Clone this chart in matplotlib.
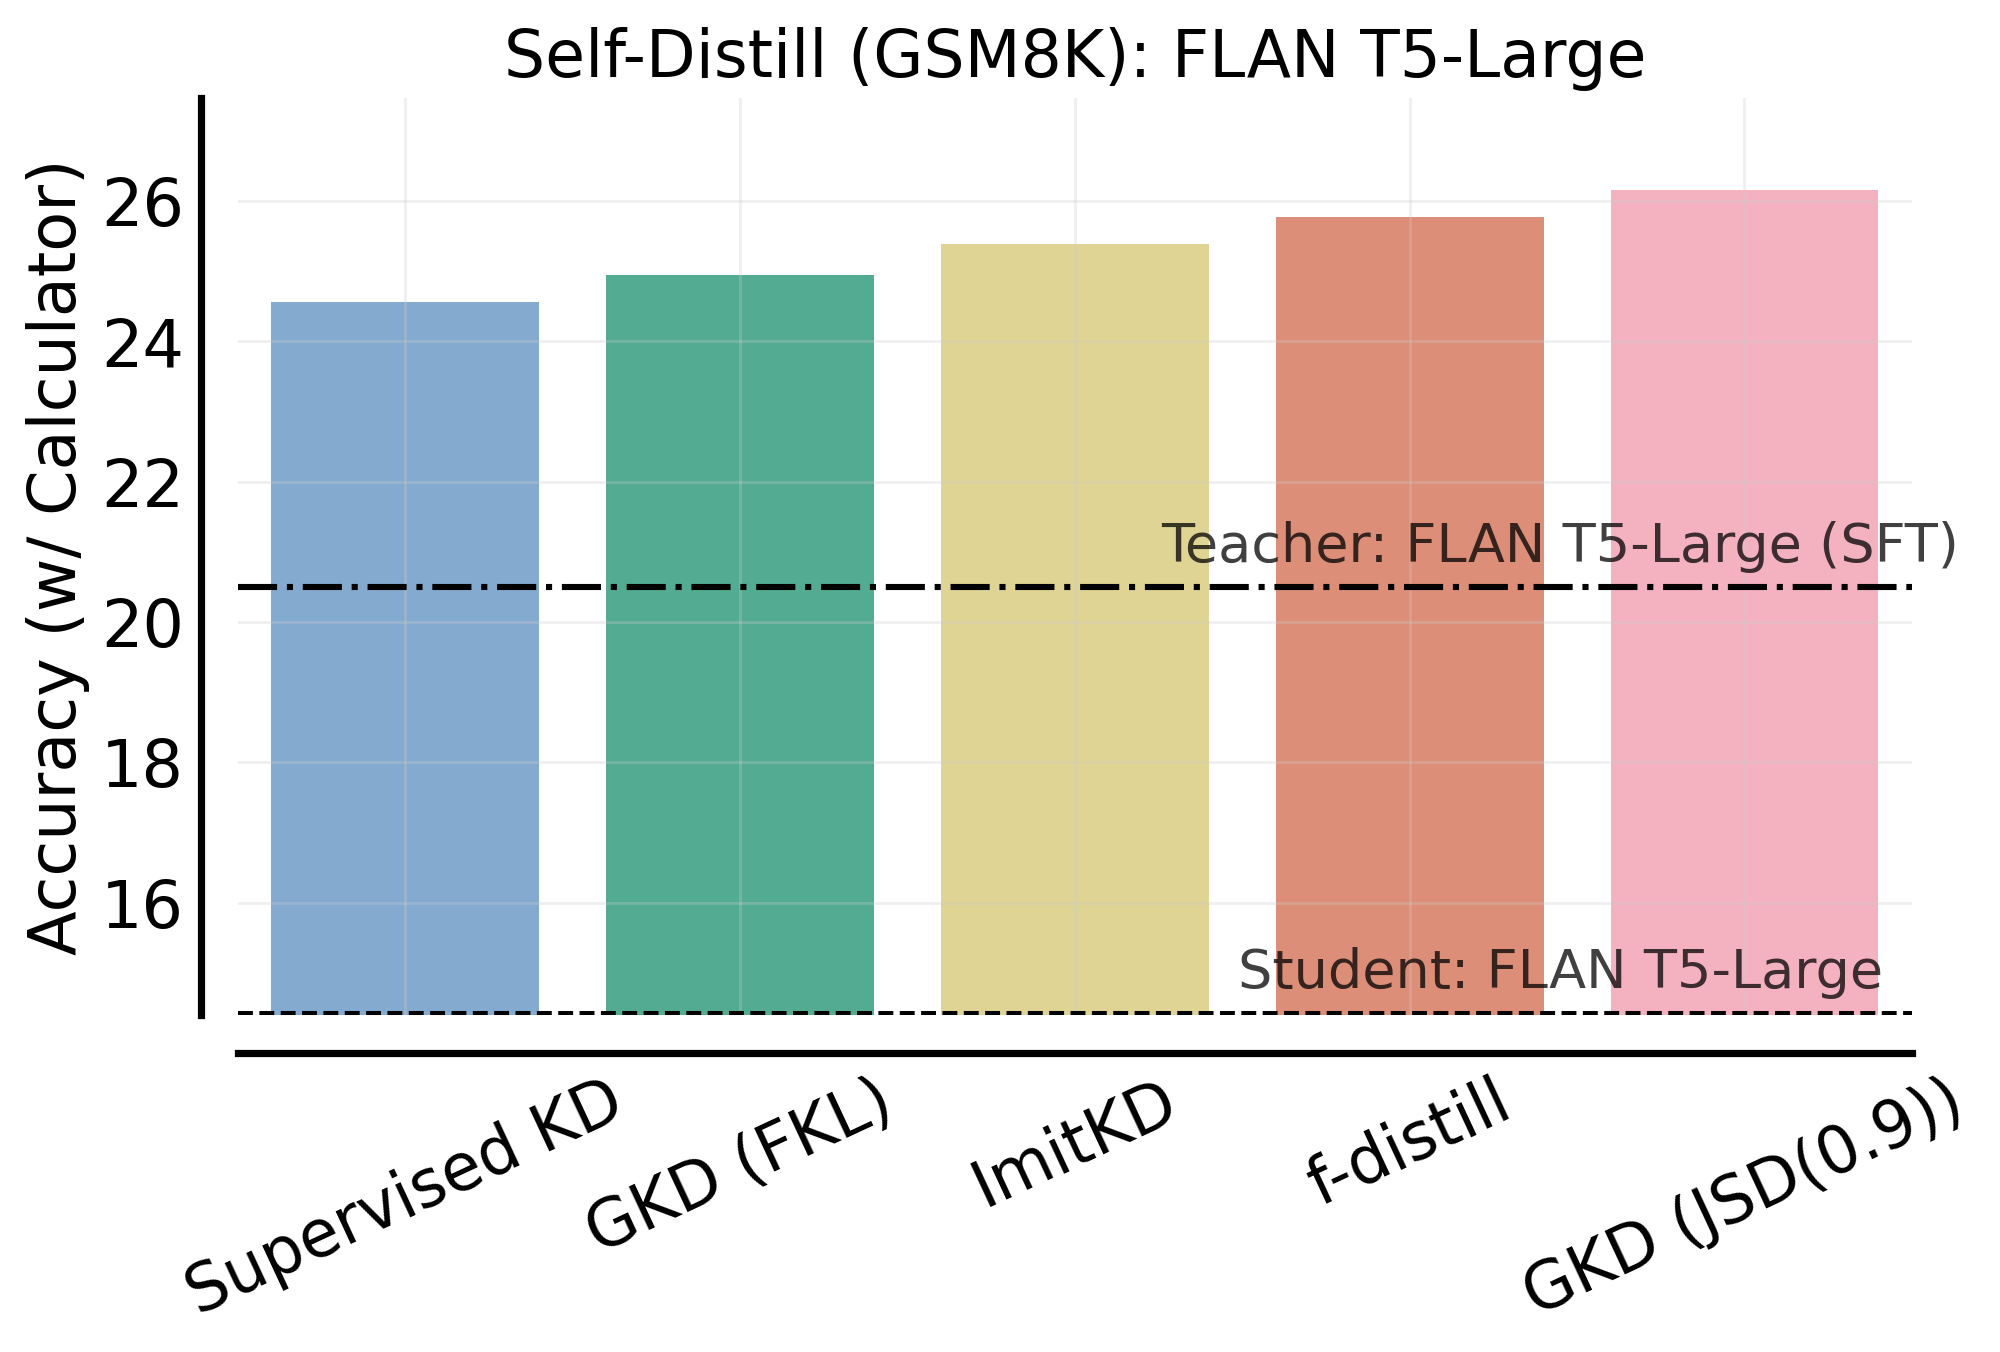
import matplotlib
matplotlib.use("Agg")
import matplotlib.pyplot as plt

methods = ["Supervised KD", "GKD (FKL)", "ImitKD", "f-distill", "GKD (JSD(0.9))"]
accuracy = [24.56, 24.94, 25.39, 25.77, 26.15]
bar_colors = ["#84AACF", "#53AC91", "#E0D494", "#DC8E78", "#F4B2C0"]
teacher_acc = 20.5
student_acc = 14.42
teacher_label = "Teacher: FLAN T5-Large (SFT)"
student_label = "Student: FLAN T5-Large"
yticks = [16, 18, 20, 22, 24, 26]

plt.rcParams['font.family'] = ['DejaVu Sans']

fig = plt.figure(figsize=(10, 6.76), dpi=200)
ax = fig.add_axes([0.119, 0.2489, 0.9559 - 0.119, 0.9276 - 0.2489])

x = list(range(len(methods)))
ax.bar(x, accuracy, width=0.8, color=bar_colors, zorder=1)

ax.axhline(teacher_acc, color='black', linestyle='-.', linewidth=2.2, zorder=3)
ax.axhline(student_acc, color='black', linestyle='--', linewidth=1.45, zorder=3)

ax.text(3.45, teacher_acc + 0.2, teacher_label, ha='center', va='bottom',
        fontsize=19.5, color='black', alpha=0.75, zorder=4)
ax.text(3.45, student_acc + 0.2, student_label, ha='center', va='bottom',
        fontsize=19.5, color='black', alpha=0.75, zorder=4)

ax.set_xlim(-0.5, 4.5)
ax.set_ylim(14.39, 27.47)

ax.grid(True, color='#cccccc', alpha=0.3, linewidth=1.0, zorder=2)
ax.set_axisbelow(False)

for side in ['top', 'right']:
    ax.spines[side].set_visible(False)
for side in ['left', 'bottom']:
    ax.spines[side].set_position(('outward', 13.5))
    ax.spines[side].set_linewidth(2.6)
    ax.spines[side].set_color('black')

ax.tick_params(axis='both', length=0)
ax.tick_params(axis='y', labelsize=23.5, pad=6)
ax.tick_params(axis='x', labelsize=23.3, pad=6, labelrotation=25)

ax.set_yticks(yticks)
ax.set_xticks(x)
ax.set_xticklabels(methods)
for lbl in ax.get_xticklabels():
    lbl.set_horizontalalignment('center')
    lbl.set_rotation(25)

ax.set_ylabel("Accuracy (w/ Calculator)", fontsize=23.5)
ax.set_title("Self-Distill (GSM8K): FLAN T5-Large", fontsize=23.3, pad=7.5)

fig.savefig("out.png", dpi=200)
